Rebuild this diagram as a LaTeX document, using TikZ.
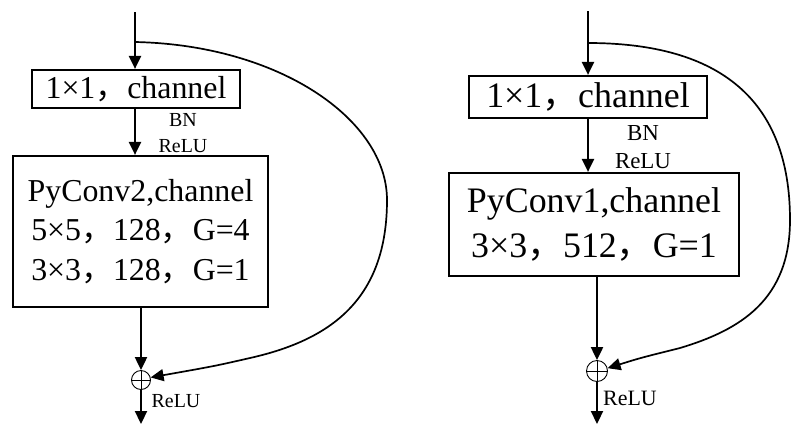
\documentclass[tikz,border=0pt]{standalone}
\usepackage{fontspec}
\setmainfont{Liberation Serif}
\newfontfamily\cjk{Noto Sans CJK SC}
\usetikzlibrary{arrows.meta, positioning}
\newcommand{\fwc}{{\cjk ，}}

\tikzset{
  blockbox/.style={draw, line width=2.2bp, inner sep=0pt, align=center},
  sumnode/.style={circle, draw, line width=0.9bp, inner sep=0pt,
    path picture={\draw[line width=0.9bp]
      (path picture bounding box.north) -- (path picture bounding box.south)
      (path picture bounding box.west) -- (path picture bounding box.east);}},
  flow/.style={line width=2.2bp, ->},
  skip/.style={line width=1.7bp, ->},
}

\begin{document}
\begin{tikzpicture}[x=1bp, y=-1bp, >={Triangle[length=13bp,width=12bp]}]
\useasboundingbox (0,0) rectangle (792,424);

% left block
\coordinate (in1) at (135,12);
\coordinate (br1) at (135,42);
\node[blockbox, minimum width=208bp, minimum height=38bp, font=\fontsize{32}{36}\selectfont]
  (c1) at (136,89) {1×1\fwc channel};
\node[blockbox, minimum width=255bp, minimum height=151bp, font=\fontsize{32}{40}\selectfont]
  (py1) at (140.5,231.5) {PyConv2,channel\\5×5\fwc 128\fwc G=4\\3×3\fwc 128\fwc G=1};
\node[sumnode, minimum size=19bp] (sum1) at (141,380) {};
\coordinate (out1) at (141,424);
\node[font=\fontsize{20}{20}\selectfont] (bn1) at (183,120) {BN};
\node[font=\fontsize{20}{20}\selectfont] (re1) at (183,146) {ReLU};
\node[font=\fontsize{20}{20}\selectfont] (ro1) at (176,401) {ReLU};

\draw[flow] (in1) -- (in1 |- c1.north);
\draw[flow] (in1 |- c1.south) -- (in1 |- py1.north);
\draw[flow] (py1.south -| sum1) -- (sum1.north);
\draw[flow] (sum1.south) -- (out1);
\draw[skip] (br1) .. controls (280,45) and (387,120) .. (387,200)
  .. controls (387,300) and (330,340) .. (250,358)
  .. controls (215,366) .. (sum1.15);

% right block
\coordinate (in2) at (588,11);
\coordinate (br2) at (588,43);
\node[blockbox, minimum width=238bp, minimum height=42bp, font=\fontsize{36}{40}\selectfont]
  (c2) at (588,97) {1×1\fwc channel};
\node[blockbox, minimum width=290bp, minimum height=103bp, font=\fontsize{36}{45}\selectfont]
  (py2) at (594,224.5) {PyConv1,channel\\3×3\fwc 512\fwc G=1};
\node[sumnode, minimum size=21bp] (sum2) at (597,371) {};
\coordinate (out2) at (597,424);
\node[font=\fontsize{23}{23}\selectfont] (bn2) at (643,133) {BN};
\node[font=\fontsize{23}{23}\selectfont] (re2) at (643,161) {ReLU};
\node[font=\fontsize{22}{22}\selectfont] (ro2) at (630,398) {ReLU};

\draw[flow] (in2) -- (in2 |- c2.north);
\draw[flow] (in2 |- c2.south) -- (in2 |- py2.north);
\draw[flow] (py2.south -| sum2) -- (sum2.north);
\draw[flow] (sum2.south) -- (out2);
\draw[skip] (br2) .. controls (720,43) and (790,100) .. (790,220)
  .. controls (790,300) and (740,330) .. (680,348)
  .. controls (640,358) .. (sum2.15);
\end{tikzpicture}
\end{document}
